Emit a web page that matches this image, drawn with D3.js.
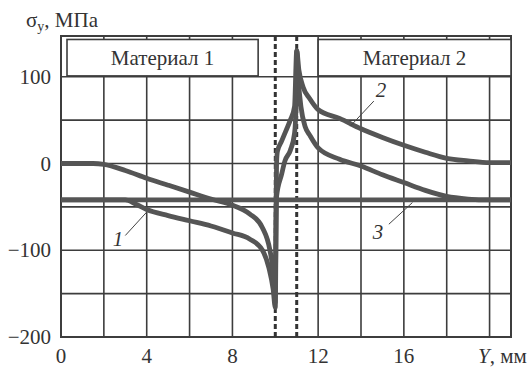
<!DOCTYPE html>
<html>
<head>
<meta charset="utf-8">
<script src="https://cdn.jsdelivr.net/npm/d3@7"></script>
<style>
  body { margin: 0; background: #fff; }
  text { font-family: "Liberation Serif", "Times New Roman", serif; fill: #333; }
</style>
</head>
<body>
<div id="chart"></div>
<script>
// Data
const xTicks = [0, 4, 8, 12, 16];
const yTicks = [100, 0, -100, -200];
const xGrid = [0, 2, 4, 6, 8, 12, 14, 16, 18, 20];
const yGrid = [100, 50, 0, -50, -100, -150];
const interfaces = [10, 11];

// curve 1: starts and ends on -42
const curve1 = [[0, -42], [3, -42], [3.5, -47], [4, -53], [5, -60], [6, -66], [7, -72], [8, -80],
  [8.8, -87], [9.4, -100], [9.7, -120], [9.9, -145], [10, -166], [10.03, -100], [10.06, -38],
  [10.3, -12], [10.45, 3], [10.7, 15], [10.9, 35], [10.96, 60], [11, 130], [11.08, 95], [11.2, 65],
  [11.4, 42], [11.6, 33], [12, 18], [13, 5], [14, -3], [15, -13], [16, -22], [17, -31], [18, -38],
  [19, -41], [20, -42], [21, -42]];

// curve 2: starts and ends on 0
const curve2 = [[0, 0], [1.5, 0], [2, -1], [3, -8], [4, -17], [5, -25], [6, -33], [7, -41], [8, -48],
  [8.8, -58], [9.4, -74], [9.75, -100], [9.9, -125], [10, -160], [10.03, -60], [10.06, 0],
  [10.1, 14], [10.3, 26], [10.5, 38], [10.7, 50], [10.9, 66], [11, 130], [11.1, 108], [11.3, 88],
  [11.6, 75], [12, 62], [13, 52], [14, 40], [15, 30], [16, 21], [17, 13], [18, 6], [19, 3],
  [20, 1], [21, 1]];

// curve 3: constant
const curve3 = [[0, -42], [21, -42]];

const materials = [
  { name: "Материал 1", x0: 0.28, x1: 9.2 },
  { name: "Материал 2", x0: 12, x1: 21 }
];

// Dimensions
const width = 532, height = 367;
const margin = { top: 36, right: 21, bottom: 30, left: 61 };

const svg = d3.select("#chart")
  .append("svg")
  .attr("width", width)
  .attr("height", height);

const x = d3.scaleLinear().domain([0, 21]).range([margin.left, width - margin.right]);
const y = d3.scaleLinear().domain([-200, 147]).range([height - margin.bottom, margin.top]);

const ink = "#3d3d3d";

// Grid
svg.append("g")
  .selectAll("line")
  .data(xGrid)
  .enter()
  .append("line")
  .attr("x1", d => x(d)).attr("x2", d => x(d))
  .attr("y1", y.range()[1]).attr("y2", y.range()[0])
  .attr("stroke", ink).attr("stroke-width", 1.6);

svg.append("g")
  .selectAll("line")
  .data(yGrid)
  .enter()
  .append("line")
  .attr("x1", x.range()[0]).attr("x2", x.range()[1])
  .attr("y1", d => y(d)).attr("y2", d => y(d))
  .attr("stroke", ink).attr("stroke-width", 1.6);

// Frame
svg.append("rect")
  .attr("x", x.range()[0]).attr("y", y.range()[1])
  .attr("width", x.range()[1] - x.range()[0])
  .attr("height", y.range()[0] - y.range()[1])
  .attr("fill", "none").attr("stroke", ink).attr("stroke-width", 2);

// Material boxes
materials.forEach(m => {
  svg.append("rect")
    .attr("x", x(m.x0)).attr("y", y(143))
    .attr("width", x(m.x1) - x(m.x0))
    .attr("height", y(101) - y(143))
    .attr("fill", "#fff").attr("stroke", ink).attr("stroke-width", 1.6);
  svg.append("text")
    .attr("x", (x(m.x0) + x(m.x1)) / 2)
    .attr("y", y(122) + 7)
    .attr("text-anchor", "middle")
    .attr("font-size", "21px")
    .text(m.name);
});

// Interface dashed lines
svg.append("g")
  .selectAll("line")
  .data(interfaces)
  .enter()
  .append("line")
  .attr("x1", d => x(d)).attr("x2", d => x(d))
  .attr("y1", y.range()[1]).attr("y2", y.range()[0])
  .attr("stroke", "#333").attr("stroke-width", 3)
  .attr("stroke-dasharray", "5,3");

// Curves
const line = d3.line()
  .x(d => x(d[0]))
  .y(d => y(d[1]))
  .curve(d3.curveMonotoneX);

[curve3, curve1, curve2].forEach(c => {
  svg.append("path")
    .datum(c)
    .attr("d", line)
    .attr("fill", "none")
    .attr("stroke", "#555")
    .attr("stroke-width", 4.8)
    .attr("stroke-linejoin", "round");
});

// Curve labels with leader lines
const labels = [
  { t: "1", lx: 118, ly: 246, from: [3.0, -83], to: [4.0, -56] },
  { t: "2", lx: 381, ly: 97, from: [14.6, 72], to: [13.5, 43] },
  { t: "3", lx: 378, ly: 239, from: [15.3, -70], to: [16.4, -45] }
];
labels.forEach(l => {
  svg.append("line")
    .attr("x1", x(l.from[0])).attr("y1", y(l.from[1]))
    .attr("x2", x(l.to[0])).attr("y2", y(l.to[1]))
    .attr("stroke", "#444").attr("stroke-width", 1);
  svg.append("text")
    .attr("x", l.lx).attr("y", l.ly)
    .attr("text-anchor", "middle")
    .attr("font-size", "21px")
    .attr("font-style", "italic")
    .text(l.t);
});

// Tick labels
svg.append("g")
  .selectAll("text")
  .data(yTicks)
  .enter()
  .append("text")
  .attr("x", x.range()[0] - 10)
  .attr("y", d => y(d) + 7)
  .attr("text-anchor", "end")
  .attr("font-size", "21px")
  .text(d => d < 0 ? "\u2212" + (-d) : d);

svg.append("g")
  .selectAll("text")
  .data(xTicks)
  .enter()
  .append("text")
  .attr("x", d => x(d))
  .attr("y", height - 4)
  .attr("text-anchor", "middle")
  .attr("font-size", "21px")
  .text(d => d);

// Axis titles
const xt = svg.append("text")
  .attr("x", 478).attr("y", height - 4)
  .attr("font-size", "21px");
xt.append("tspan").attr("font-style", "italic").text("Y");
xt.append("tspan").text(", мм");

const yt = svg.append("text")
  .attr("x", 26).attr("y", 27)
  .attr("font-size", "21px");
yt.append("tspan").text("σ");
yt.append("tspan").attr("font-size", "14px").attr("dy", 4).text("y");
yt.append("tspan").attr("dy", -4).text(", МПа");
</script>
</body>
</html>
